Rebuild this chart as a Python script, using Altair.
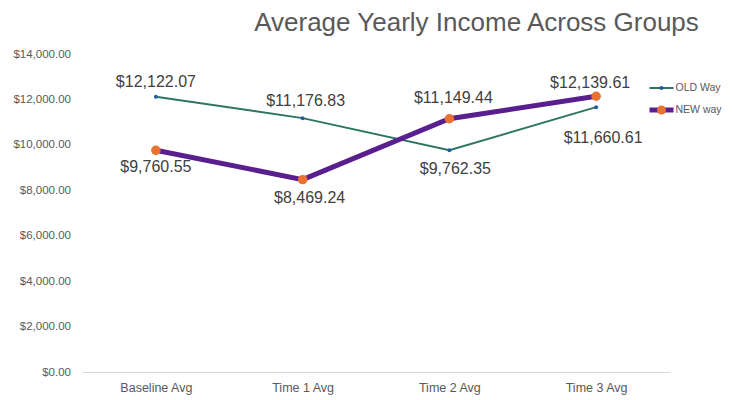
import altair as alt
import pandas as pd

categories = ["Baseline Avg", "Time 1 Avg", "Time 2 Avg", "Time 3 Avg"]
old_way = [12122.07, 11176.83, 9762.35, 11660.61]
new_way = [9760.55, 8469.24, 11149.44, 12139.61]
series_names = ["OLD Way", "NEW way"]
y_ticks = [0, 2000, 4000, 6000, 8000, 10000, 12000, 14000]

rows = []
for s, vals in zip(series_names, [old_way, new_way]):
    for c, v in zip(categories, vals):
        rows.append({"Group": c, "Series": s, "Value": v})
df = pd.DataFrame(rows)

FONT = "Liberation Sans"
GREY = "#595959"
TEAL = "#2D7563"
BLUE = "#215F9A"
PURPLE = "#5A1F8F"
ORANGE = "#E97132"
W, H = 587, 318

# manual label placement (pixel nudges, like hand-placed Excel labels)
label_nudge = {
    ("OLD Way", "Baseline Avg"): (0, -15),
    ("OLD Way", "Time 1 Avg"): (3, -17),
    ("OLD Way", "Time 2 Avg"): (6, 19),
    ("OLD Way", "Time 3 Avg"): (7, 31),
    ("NEW way", "Baseline Avg"): (0, 17),
    ("NEW way", "Time 1 Avg"): (7, 18),
    ("NEW way", "Time 2 Avg"): (4, -21),
    ("NEW way", "Time 3 Avg"): (-6, -13),
}

base = alt.Chart(df)
x = alt.X("Group:N", sort=categories,
          scale=alt.Scale(type="point", padding=0.5),
          axis=alt.Axis(title=None, labelAngle=0, ticks=False, grid=False,
                        domainColor="#D9D9D9", domainWidth=1,
                        labelFontSize=12.5, labelColor=GREY, labelFont=FONT,
                        labelPadding=9))
y = alt.Y("Value:Q", scale=alt.Scale(domain=[0, 14000]),
          axis=alt.Axis(title=None, values=y_ticks, format="$,.2f",
                        domain=False, ticks=False, grid=False,
                        labelFontSize=11.5, labelColor=GREY, labelFont=FONT,
                        labelPadding=12))

old_line = base.transform_filter(alt.datum.Series == "OLD Way").mark_line(
    color=TEAL, strokeWidth=2).encode(x=x, y=y)
old_pts = base.transform_filter(alt.datum.Series == "OLD Way").mark_point(
    filled=True, size=16, color=BLUE, opacity=1).encode(x=x, y=y)
new_line = base.transform_filter(alt.datum.Series == "NEW way").mark_line(
    color=PURPLE, strokeWidth=5).encode(x=x, y=y)
new_pts = base.transform_filter(alt.datum.Series == "NEW way").mark_point(
    filled=True, size=90, color=ORANGE, opacity=1).encode(x=x, y=y)

labels = []
for (s, g), (dx, dy) in label_nudge.items():
    labels.append(
        base.transform_filter((alt.datum.Series == s) & (alt.datum.Group == g))
        .mark_text(dx=dx, dy=dy, fontSize=16, color="#404040", font=FONT,
                   baseline="middle", align="center")
        .encode(x=x, y=y, text=alt.Text("Value:Q", format="$,.2f"))
    )

# legend (manual, drawn at right)
LX0, LX1, LXP, LXT = 567, 591, 579, 593
leg_df = pd.DataFrame({"Series": series_names, "row": [0, 1]})
leg = alt.Chart(leg_df)
leg_old_line = leg.transform_filter(alt.datum.row == 0).mark_rule(
    color=TEAL, strokeWidth=2).encode(x=alt.value(LX0), x2=alt.value(LX1), y=alt.value(34))
leg_old_pt = leg.transform_filter(alt.datum.row == 0).mark_point(
    filled=True, size=16, color=BLUE, opacity=1).encode(x=alt.value(LXP), y=alt.value(34))
leg_new_line = leg.transform_filter(alt.datum.row == 1).mark_rule(
    color=PURPLE, strokeWidth=5).encode(x=alt.value(LX0), x2=alt.value(LX1), y=alt.value(56))
leg_new_pt = leg.transform_filter(alt.datum.row == 1).mark_point(
    filled=True, size=80, color=ORANGE, opacity=1).encode(x=alt.value(LXP), y=alt.value(56))
leg_text_old = leg.transform_filter(alt.datum.row == 0).mark_text(
    align="left", baseline="middle", fontSize=10.5, color=GREY, font=FONT
).encode(x=alt.value(LXT), y=alt.value(34), text="Series:N")
leg_text_new = leg.transform_filter(alt.datum.row == 1).mark_text(
    align="left", baseline="middle", fontSize=10.5, color=GREY, font=FONT
).encode(x=alt.value(LXT), y=alt.value(56), text="Series:N")

title = alt.Chart(pd.DataFrame({"t": ["Average Yearly Income Across Groups"]})).mark_text(
    fontSize=26, color=GREY, font=FONT, align="center", baseline="alphabetic"
).encode(x=alt.value(394), y=alt.value(-23), text="t:N")

layers = [old_line, old_pts, new_line, new_pts] + labels + [
    leg_old_line, leg_old_pt, leg_new_line, leg_new_pt,
    leg_text_old, leg_text_new, title]

chart = alt.layer(*layers).properties(
    width=W, height=H,
    autosize=alt.AutoSizeParams(type="none"),
    padding={"left": 74.5, "top": 46, "right": 54, "bottom": 28},
).configure_view(stroke=None)

chart.save("out.html", embed_options={"renderer": "svg", "actions": False})
